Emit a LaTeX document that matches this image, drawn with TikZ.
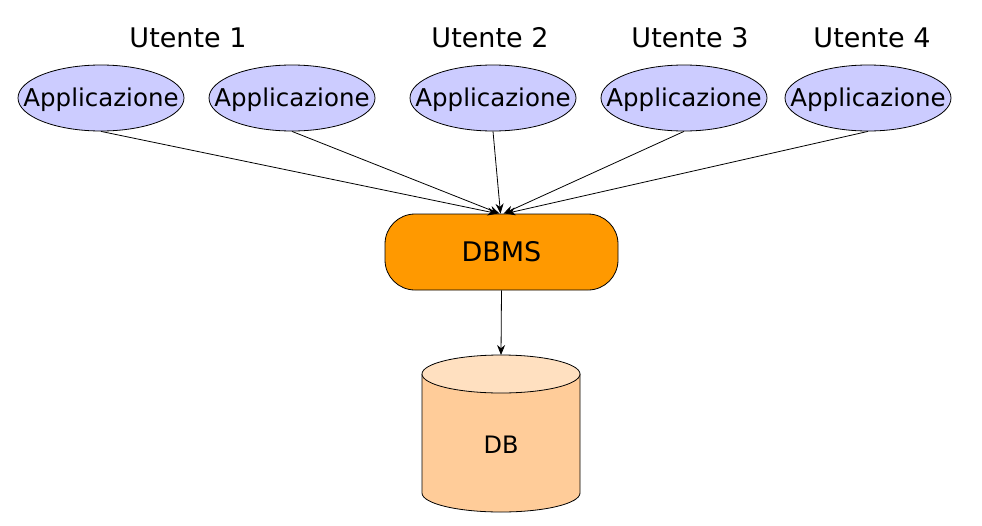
\documentclass[tikz,border=0pt]{standalone}
\usepackage{fontspec}
\setmainfont{DejaVu Sans}
\usetikzlibrary{shapes.geometric,arrows.meta}
\definecolor{appfill}{RGB}{204,204,255}
\definecolor{dbmsfill}{RGB}{255,153,0}
\definecolor{cylbody}{RGB}{255,204,153}
\definecolor{cyltop}{RGB}{255,224,192}
\tikzset{
  app/.style={ellipse,draw=black,fill=appfill,line width=0.8pt,minimum width=166pt,minimum height=66pt,inner sep=0pt,
    label={[inner sep=0pt,yshift=-2pt,font=\fontsize{24.5}{28}\selectfont]center:#1}},
  user/.style={font=\fontsize{27}{30}\selectfont,inner sep=0pt},
  dbmsbox/.style={draw=black,fill=dbmsfill,rounded corners=30pt,line width=0.8pt,minimum width=233pt,minimum height=76pt,inner sep=0pt,font=\fontsize{27}{30}\selectfont},
  conn/.style={line width=0.8pt,-{Stealth[length=10pt,width=8pt]}},
}
\begin{document}
\begin{tikzpicture}[x=1pt,y=-1pt]
\useasboundingbox (0,0) rectangle (982,525);
% users
\node[user] (u1) at (188,38) {Utente 1};
\node[user] (u2) at (490,38) {Utente 2};
\node[user] (u3) at (690,38) {Utente 3};
\node[user] (u4) at (872,38) {Utente 4};
% applications
\node[app=Applicazione] (a1) at (101,98) {};
\node[app=Applicazione] (a2) at (292,98) {};
\node[app=Applicazione] (a3) at (493,98) {};
\node[app=Applicazione] (a4) at (684,98) {};
\node[app=Applicazione] (a5) at (868,98) {};
% DBMS
\node[dbmsbox] (dbms) at (501.5,252) {DBMS};
% cylinder
\coordinate (dbtop) at (501,355);
\fill[cylbody] (422,374) -- (422,493) arc[start angle=180,end angle=0,x radius=79,y radius=19] -- (580,374) -- cycle;
\draw[line width=0.8pt] (422,374) -- (422,493) arc[start angle=180,end angle=0,x radius=79,y radius=19] -- (580,374);
\draw[line width=0.8pt,fill=cyltop] (501,374) ellipse[x radius=79,y radius=19];
\node[font=\fontsize{24}{28}\selectfont,inner sep=0pt] (db) at (501,445) {DB};
% connectors
\draw[conn] (a1.south) -- ([xshift=-4pt]dbms.north);
\draw[conn] (a2.south) -- ([xshift=-2pt]dbms.north);
\draw[conn] (a3.south) -- ([xshift=-1pt]dbms.north);
\draw[conn] (a4.south) -- ([xshift=2pt]dbms.north);
\draw[conn] (a5.south) -- ([xshift=4pt]dbms.north);
\draw[conn] (dbms.south) -- (dbtop);
\end{tikzpicture}
\end{document}
